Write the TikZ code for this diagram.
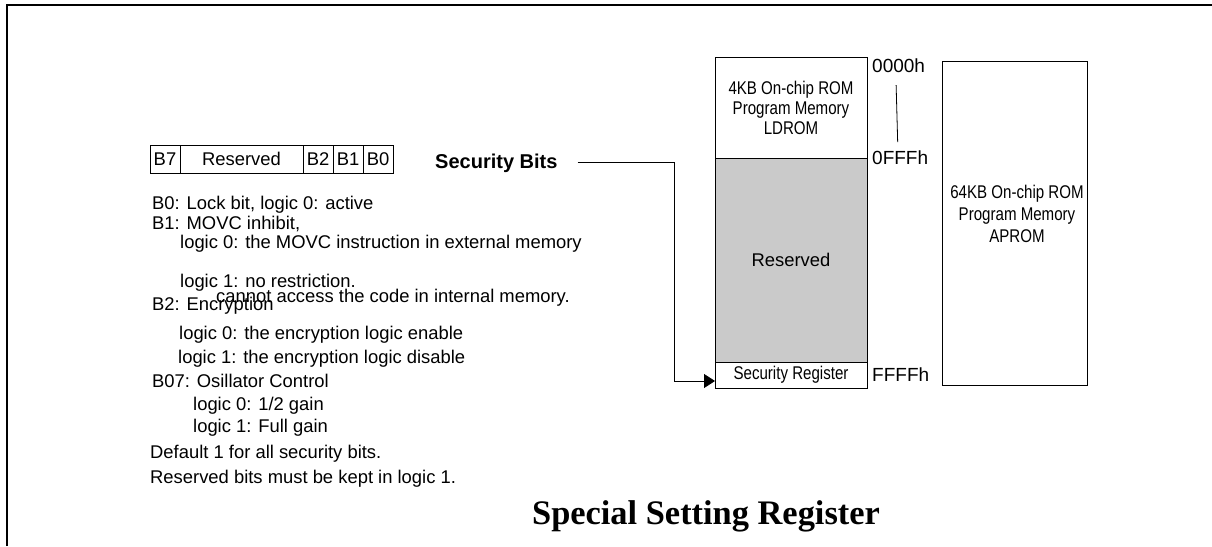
\documentclass[tikz,border=0pt]{standalone}
\usepackage{fontspec}
\setmainfont{Liberation Sans}
\newfontfamily\narrowfont[FakeStretch=0.82]{Liberation Sans}
\newfontfamily\titlefont{Liberation Serif}
\usetikzlibrary{positioning,arrows.meta}
\definecolor{regfill}{RGB}{202,202,202}

\begin{document}
\begin{tikzpicture}[x=1pt,y=-1pt,
    txt/.style={anchor=base west,inner sep=0pt,font=\fontsize{18.4}{22}\selectfont},
    bitcell/.style={draw,line width=0.8pt,minimum height=28pt,inner sep=0pt,outer sep=0pt,font=\fontsize{18.4}{22}\selectfont},
    membox/.style={draw,line width=0.8pt,minimum width=152pt,inner sep=0pt,outer sep=0pt},
    memtxt/.style={align=center,inner sep=0pt,font=\narrowfont\fontsize{18.4}{20}\selectfont},
    addr/.style={anchor=base west,inner sep=0pt,font=\fontsize{19}{22}\selectfont}]
        \useasboundingbox (0,0) rectangle (1212,546);
        % Frame on the left and on top
        \draw[line width=2.4pt] (7,546) -- (7,5) -- (1212,5);

        % The security bits
        \node[bitcell,minimum width=30pt] (b7) at (165,159) {B7};
        \node[bitcell,minimum width=123pt,right=0pt of b7] (resv) {Reserved};
        \node[bitcell,minimum width=30pt,right=0pt of resv] (b2) {B2};
        \node[bitcell,minimum width=30pt,right=0pt of b2] (b1) {B1};
        \node[bitcell,minimum width=30pt,right=0pt of b1] (b0) {B0};
        \node[anchor=base west,inner sep=0pt,font=\bfseries\fontsize{20}{22}\selectfont] (secbits) at (435,168) {Security Bits};

        % What the bits mean
        \node[txt] (lb0) at (152,209.6) {B0: Lock bit, logic 0: active};
        \node[txt] (lb1) at (152,229.6) {B1: MOVC inhibit,};
        \node[txt] (lb1a) at (180,248.6) {logic 0: the MOVC instruction in external memory};
        \node[txt] (lb1b) at (180,287.6) {logic 1: no restriction.};
        \node[txt] (lb1c) at (216,302) {cannot access the code in internal memory.};
        \node[txt] (lb2) at (152,310) {B2: Encryption};
        \node[txt] (lb2a) at (179,339.6) {logic 0: the encryption logic enable};
        \node[txt] (lb2b) at (178,363.6) {logic 1: the encryption logic disable};
        \node[txt] (lb7) at (152,387.6) {B07: Osillator Control};
        \node[txt] (lb7a) at (193,410.6) {logic 0: 1/2 gain};
        \node[txt] (lb7b) at (193,432.6) {logic 1: Full gain};
        \node[txt] (ldef) at (150,458.6) {Default 1 for all security bits.};
        \node[txt] (lres) at (150,483.6) {Reserved bits must be kept in logic 1.};

        % Memory map
        \node[membox,minimum height=101pt] (ldrom) at (791,107.5) {};
        \node[membox,minimum height=204pt,fill=regfill,below=0pt of ldrom,font=\fontsize{18.4}{22}\selectfont] (resmem) {Reserved};
        \node[membox,minimum height=26pt,below=0pt of resmem,memtxt] (secreg) {Security Register};
        \node[memtxt] (ldromtxt) at (ldrom.center) {4KB On-chip ROM\\Program Memory\\LDROM};
        \node[membox,minimum width=145pt,minimum height=324pt] (aprom) at (1014.5,223) {};
        \node[memtxt,font=\narrowfont\fontsize{18.4}{22}\selectfont] (apromtxt) at (1017,214) {64KB On-chip ROM\\Program Memory\\APROM};

        % Addresses
        \node[addr] (a0000) at (872,72.8) {0000h};
        \node[addr] (a0fff) at (872,164) {0FFFh};
        \node[addr] (affff) at (872,381) {FFFFh};
        \draw[line width=0.8pt] ([xshift=-2.5pt,yshift=-12pt]a0000.south) -- ([xshift=-2.5pt,yshift=8pt]a0fff.north);

        % Security bits go to the security register
        \draw[line width=0.8pt,-{Triangle[length=11pt,width=14pt]}] ([xshift=20pt]secbits.east) -| ([xshift=-41pt,yshift=-6pt]secreg.west) -- ([yshift=-6pt]secreg.west);

        \node[anchor=base,inner sep=0pt,font=\titlefont\bfseries\fontsize{34.4}{40}\selectfont] (title) at (706,524) {Special Setting Register};
    \end{tikzpicture}
\end{document}
